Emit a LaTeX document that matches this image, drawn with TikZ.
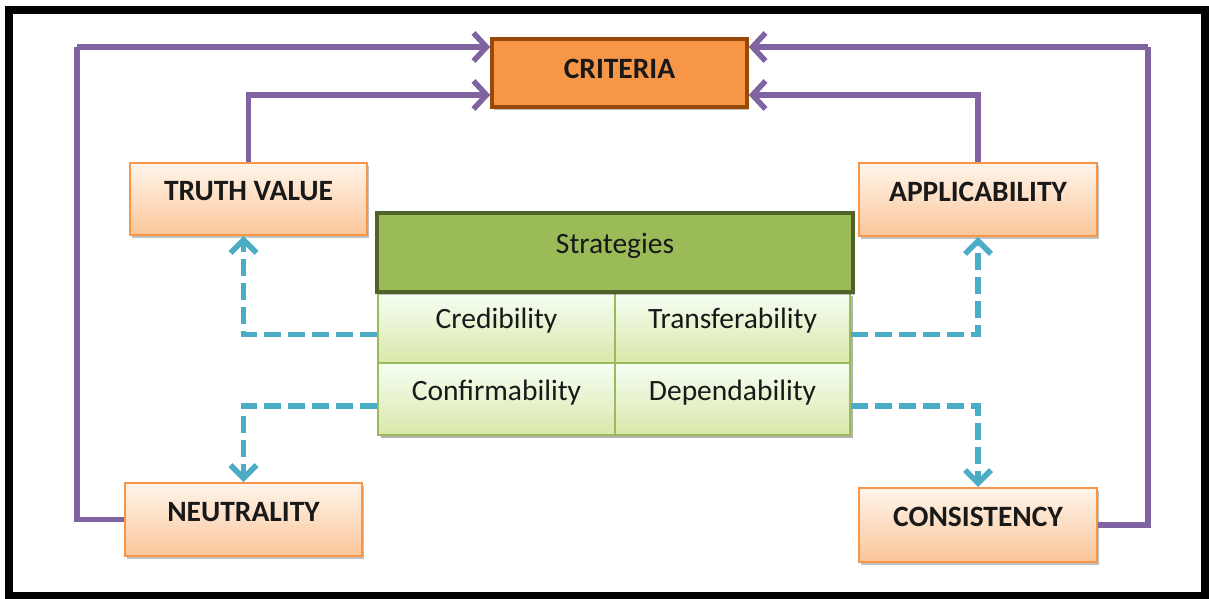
\documentclass[tikz,border=0pt]{standalone}
\usepackage{fontspec}
\setmainfont{Carlito}
\usetikzlibrary{shadows,arrows.meta}
\definecolor{purp}{HTML}{8064A2}
\definecolor{cyanb}{HTML}{4BACC6}
\definecolor{orb}{HTML}{F79646}
\definecolor{orbdark}{HTML}{984807}
\definecolor{gr}{HTML}{9BBB59}
\definecolor{grdark}{HTML}{4F6228}
\tikzset{
  shad/.style={drop shadow={shadow xshift=2pt,shadow yshift=-3pt,opacity=0.35,fill=black!70}},
  obox/.style={shad,draw=orb,line width=2pt,top color=orange!8!white,bottom color=orb!55!white,
    rectangle,inner sep=0pt,font=\fontsize{29.5}{31}\selectfont\bfseries,text height=19pt,text depth=16pt,text=black!90},
  critbox/.style={shad,draw=orbdark,line width=3.5pt,fill=orb,rectangle,inner sep=0pt,
    font=\fontsize{29.5}{31}\selectfont\bfseries,text height=19pt,text depth=7pt,text=black!90,
    minimum width=255pt,minimum height=68pt},
  cellbox/.style={draw=gr,line width=1.8pt,top color=green!4!white,bottom color=gr!40!white!90!yellow,
    rectangle,inner sep=0pt,font=\fontsize{29.5}{31}\selectfont,text height=18pt,text depth=16pt,text=black!90},
  headbox/.style={shad,draw=grdark,line width=3.5pt,fill=gr,rectangle,inner sep=0pt,
    font=\fontsize{29.5}{31}\selectfont,text height=18pt,text depth=16pt,text=black!90,
    minimum width=476pt,minimum height=79pt},
  purparrow/.style={draw=purp,line width=5.5pt,-{Straight Barb[length=13pt,width=28pt]}},
  purpline/.style={draw=purp,line width=5.5pt},
  bluearrow/.style={draw=cyanb,line width=5.5pt,dash pattern=on 17pt off 7pt,-{Straight Barb[length=13pt,width=26pt]}}
}
\begin{document}
\begin{tikzpicture}[x=1pt,y=-1pt]
\useasboundingbox (0,0) rectangle (1209,599);
\draw[line width=8pt] (9,10) rectangle (1205,596);

\node[critbox] (crit) at (619.5,73) {CRITERIA};
\node[obox,minimum width=237pt,minimum height=72pt] (tv) at (248.5,199) {TRUTH VALUE};
\node[obox,minimum width=238pt,minimum height=73pt] (app) at (978,199.5) {APPLICABILITY};
\node[obox,minimum width=237pt,minimum height=73pt] (neu) at (243.5,519.5) {NEUTRALITY};
\node[obox,minimum width=238pt,minimum height=74pt] (cons) at (978,525) {CONSISTENCY};

\fill[black,opacity=0.3] (381,296) rectangle (853,438);
\node[cellbox,minimum width=237pt,minimum height=71pt] (cred) at (496.5,327.5) {Credibility};
\node[cellbox,minimum width=235pt,minimum height=71pt] (trans) at (732.5,327.5) {Transferability};
\node[cellbox,minimum width=237pt,minimum height=72pt] (conf) at (496.5,399) {Confirmability};
\node[cellbox,minimum width=235pt,minimum height=72pt] (dep) at (732.5,399) {Dependability};
\node[headbox] (head) at (615,252.5) {Strategies};

\coordinate (lt) at (77,47);
\coordinate (rt) at (1148,47);
\draw[purpline] (neu.west) -| (lt);
\draw[purparrow] (lt) -- ([yshift=26pt]crit.west);
\draw[purparrow] (tv.north) |- ([yshift=-22pt]crit.west);
\draw[purpline] (cons.east) -| (rt);
\draw[purparrow] (rt) -- ([yshift=26pt]crit.east);
\draw[purparrow] (app.north) |- ([yshift=-22pt]crit.east);

\draw[bluearrow] ([yshift=-7pt]cred.west) -| ([xshift=-5pt]tv.south);
\draw[bluearrow] ([yshift=-7pt]conf.west) -| (neu.north);
\draw[bluearrow] ([yshift=-7pt]trans.east) -| (app.south);
\draw[bluearrow] ([yshift=-7pt]dep.east) -| (cons.north);
\end{tikzpicture}
\end{document}
